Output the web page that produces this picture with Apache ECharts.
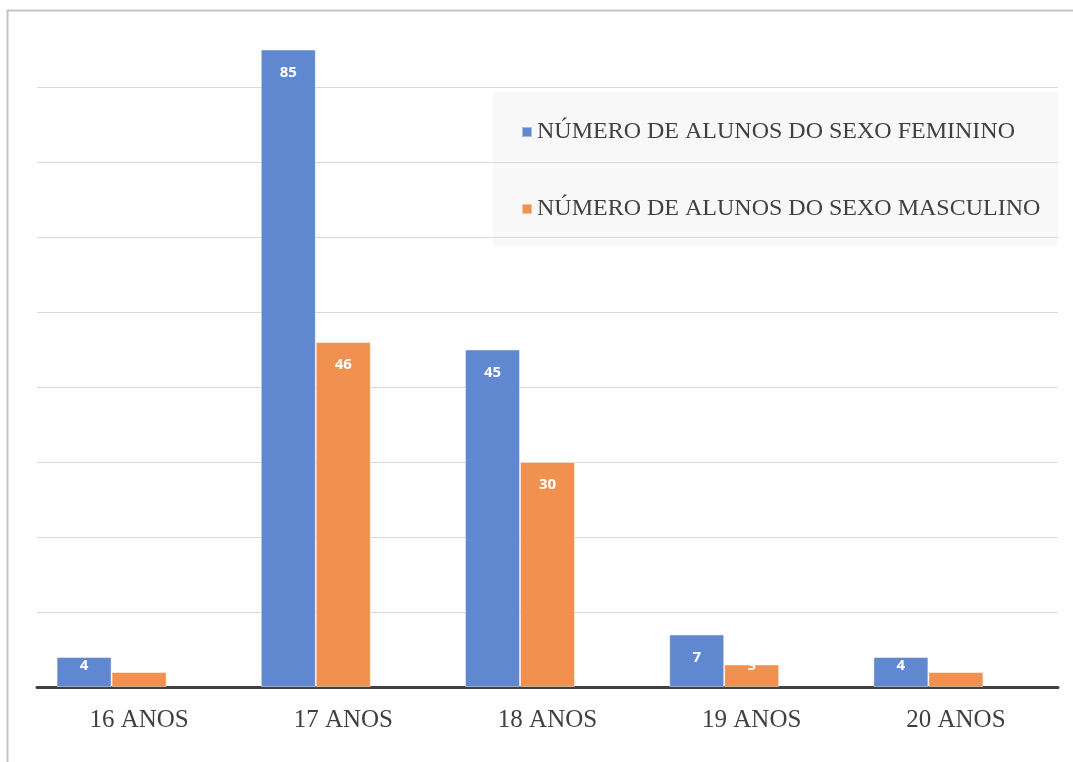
<!DOCTYPE html>
<html>
<head>
<meta charset="utf-8">
<script src="https://cdn.jsdelivr.net/npm/echarts@6/dist/echarts.min.js"></script>
<style>html,body{margin:0;padding:0;background:#fff;}#chart{width:1073px;height:762px;}</style>
</head>
<body>
<div id="chart"></div>
<script>
const categories = ['16 ANOS', '17 ANOS', '18 ANOS', '19 ANOS', '20 ANOS'];
const feminino = [4, 85, 45, 7, 4];
const masculino = [2, 46, 30, 3, 2];
const placeholder = [null, null, null, null, null];
const seriesNames = ['NÚMERO DE ALUNOS DO SEXO FEMININO', 'NÚMERO DE ALUNOS DO SEXO MASCULINO'];
const yMax = 90, yInterval = 10;

const chart = echarts.init(document.getElementById('chart'), null, {renderer: 'canvas'});

function labelLayout(params) {
  const r = params.rect;
  return {
    x: r.x + r.width / 2,
    y: Math.min(r.y + 23, r.y + r.height - 21),
    align: 'center',
    verticalAlign: 'middle'
  };
}
const labelStyle = {
  show: true,
  position: 'insideTop',
  color: '#ffffff',
  fontFamily: 'Open Sans',
  fontWeight: 'bold',
  fontSize: 15
};

chart.setOption({
  animation: false,
  backgroundColor: '#ffffff',
  graphic: {
    elements: [
      {
        type: 'rect', z: -100, silent: true,
        shape: {x: 493, y: 92, width: 565, height: 154},
        style: {fill: '#f8f8f8'}
      },
      {
        type: 'polyline', z: 100, silent: true,
        shape: {points: [[7.5, 762], [7.5, 10.5], [1073, 10.5]]},
        style: {stroke: '#c4c4c4', lineWidth: 2, fill: null}
      }
    ]
  },
  grid: {left: 37, right: 15, top: 12, bottom: 75, containLabel: false},
  legend: {
    data: seriesNames,
    orient: 'vertical',
    left: 516,
    top: 115,
    itemWidth: 10,
    itemHeight: 10,
    itemGap: 53,
    icon: 'rect',
    textStyle: {fontFamily: 'Liberation Serif', fontSize: 24, color: '#404040', lineHeight: 24, height: 24},
    backgroundColor: 'transparent'
  },
  xAxis: {
    type: 'category',
    data: categories,
    axisLine: {show: true, lineStyle: {color: '#404040', width: 3}},
    axisTick: {show: false},
    axisLabel: {fontFamily: 'Liberation Serif', fontSize: 25, color: '#404040', margin: 21}
  },
  yAxis: {
    type: 'value',
    min: 0,
    max: yMax,
    interval: yInterval,
    axisLine: {show: false},
    axisTick: {show: false},
    axisLabel: {show: false},
    splitLine: {show: true, showMaxLine: false, lineStyle: {color: '#d9d9d9', width: 1}}
  },
  series: [
    {
      name: seriesNames[0], type: 'bar', data: feminino,
      barWidth: 55, barGap: '0%',
      itemStyle: {color: '#5f88d0', borderColor: 'rgba(255,255,255,0.45)', borderWidth: 1},
      label: labelStyle, labelLayout: labelLayout
    },
    {
      name: seriesNames[1], type: 'bar', data: masculino,
      barWidth: 55, barGap: '0%',
      itemStyle: {color: '#f09150', borderColor: 'rgba(255,255,255,0.45)', borderWidth: 1},
      label: labelStyle, labelLayout: labelLayout
    },
    {
      name: 'placeholder', type: 'bar', data: placeholder,
      barWidth: 55, barGap: '0%'
    }
  ]
});
</script>
</body>
</html>
